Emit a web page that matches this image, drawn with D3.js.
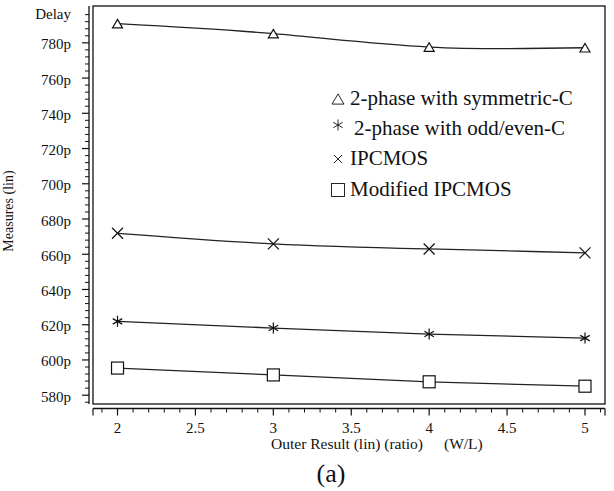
<!DOCTYPE html>
<html><head><meta charset="utf-8">
<script src="https://cdn.jsdelivr.net/npm/d3@7"></script>
<style>
html,body{margin:0;padding:0;background:#fff;}
</style></head>
<body><svg id="c" width="614" height="491" font-family="'Liberation Serif', 'Times New Roman', Times, 'DejaVu Serif', serif"></svg>
<script>
const xValues = [2, 3, 4, 5];
const seriesNames = ["2-phase with symmetric-C", "2-phase with odd/even-C", "IPCMOS", "Modified IPCMOS"];
const seriesSymbols = ["triangle", "asterisk", "cross", "square"];
const symmetricC = [790.9, 785.2, 777.6, 777.2];
const oddEvenC   = [621.9, 618.1, 614.7, 612.4];
const ipcmos     = [671.9, 665.9, 663.0, 660.8];
const modIpcmos  = [595.4, 591.5, 587.6, 585.1];
const yTickValues = [580, 600, 620, 640, 660, 680, 700, 720, 740, 760, 780];
const xTickValues = [2, 2.5, 3, 3.5, 4, 4.5, 5];
const yAxisTitle = "Measures (lin)";
const xAxisTitle = "Outer Result (lin) (ratio)";
const xAxisUnit = "(W/L)";
const yTopLabel = "Delay";
const caption = "(a)";

const allSeries = [symmetricC, oddEvenC, ipcmos, modIpcmos];
const FONT = "'Liberation Serif', 'Times New Roman', Times, 'DejaVu Serif', serif";

const svg = d3.select("#c");
const L = 93, R = 605, T = 6, B = 404;
const x = d3.scaleLinear().domain([1.8427, 5.1284]).range([L, R]);
const y = d3.scaleLinear().domain([575.0, 800.9]).range([B, T]);

function txt(sel) { return sel.attr("font-family", FONT).attr("fill", "#111"); }

// frame
svg.append("rect").attr("x", L).attr("y", T).attr("width", R - L).attr("height", B - T)
  .attr("fill", "none").attr("stroke", "#111").attr("stroke-width", 1.3);

// y axis (offset left)
const yAxisX = 89;
const gy = svg.append("g").attr("transform", `translate(${yAxisX},0)`);
gy.append("line").attr("x1", 0).attr("x2", 0).attr("y1", T).attr("y2", B).attr("stroke", "#111").attr("stroke-width", 1.3);
const yMinor = d3.range(576, 801, 4).filter(v => v % 20 !== 0);
gy.selectAll(".ymin").data(yMinor).join("line")
  .attr("x1", -4).attr("x2", 0).attr("y1", d => y(d)).attr("y2", d => y(d))
  .attr("stroke", "#111").attr("stroke-width", 1);
gy.selectAll(".ymaj").data(yTickValues).join("line")
  .attr("x1", -7).attr("x2", 0).attr("y1", d => y(d)).attr("y2", d => y(d))
  .attr("stroke", "#111").attr("stroke-width", 1.2);
txt(gy.selectAll(".ylab").data(yTickValues).join("text")
  .attr("x", -18).attr("y", d => y(d) + 6.5).attr("text-anchor", "end")
  .attr("font-size", 15).text(d => d + "p"));
txt(svg.append("text").attr("x", yAxisX - 18).attr("y", 19).attr("text-anchor", "end")
  .attr("font-size", 15).text(yTopLabel));

// x axis (offset below)
const xAxisY = 408.5;
const gx = svg.append("g").attr("transform", `translate(0,${xAxisY})`);
gx.append("line").attr("x1", L).attr("x2", R).attr("y1", 0).attr("y2", 0).attr("stroke", "#111").attr("stroke-width", 1.3);
gx.append("line").attr("x1", L).attr("x2", L).attr("y1", 0).attr("y2", 7).attr("stroke", "#111").attr("stroke-width", 1.2);
gx.append("line").attr("x1", R).attr("x2", R).attr("y1", 0).attr("y2", 7).attr("stroke", "#111").attr("stroke-width", 1.2);
const xMinor = d3.range(19, 52, 1).map(v => v / 10).filter(v => Math.abs(v * 2 - Math.round(v * 2)) > 1e-6);
gx.selectAll(".xmin").data(xMinor).join("line")
  .attr("x1", d => x(d)).attr("x2", d => x(d)).attr("y1", 0).attr("y2", 4)
  .attr("stroke", "#111").attr("stroke-width", 1);
gx.selectAll(".xmaj").data(xTickValues).join("line")
  .attr("x1", d => x(d)).attr("x2", d => x(d)).attr("y1", 0).attr("y2", 7)
  .attr("stroke", "#111").attr("stroke-width", 1.2);
txt(gx.selectAll(".xlab").data(xTickValues).join("text")
  .attr("x", d => x(d)).attr("y", 24.5).attr("text-anchor", "middle")
  .attr("font-size", 15).text(d => d));

txt(svg.append("text").attr("x", 423).attr("y", 449).attr("text-anchor", "end")
  .attr("font-size", 15.5).text(xAxisTitle));
txt(svg.append("text").attr("x", 444).attr("y", 449).attr("text-anchor", "start")
  .attr("font-size", 15.5).text(xAxisUnit));
txt(svg.append("text").attr("transform", "translate(13,211) rotate(-90)").attr("text-anchor", "middle")
  .attr("font-size", 14).text(yAxisTitle));
txt(svg.append("text").attr("x", 331).attr("y", 482).attr("text-anchor", "middle")
  .attr("font-size", 26).text(caption));

// lines
const line = d3.line().x((d, i) => x(xValues[i])).y(d => y(d)).curve(d3.curveNatural);
allSeries.forEach(s => {
  svg.append("path").attr("d", line(s)).attr("fill", "none")
    .attr("stroke", "#222").attr("stroke-width", 1.3);
});

function drawMarker(g, type, cx, cy, s, sw) {
  sw = sw || 1.2;
  if (type === "triangle") {
    const h = s * 0.85;
    g.append("path").attr("d", `M${cx},${cy - h / 2}L${cx + s / 2},${cy + h / 2}L${cx - s / 2},${cy + h / 2}Z`)
      .attr("fill", "#fff").attr("stroke", "#111").attr("stroke-width", sw);
  } else if (type === "square") {
    g.append("rect").attr("x", cx - s / 2).attr("y", cy - s / 2).attr("width", s).attr("height", s)
      .attr("fill", "#fff").attr("stroke", "#111").attr("stroke-width", sw);
  } else if (type === "cross") {
    const r = s / 2;
    g.append("path").attr("d", `M${cx - r},${cy - r}L${cx + r},${cy + r}M${cx - r},${cy + r}L${cx + r},${cy - r}`)
      .attr("stroke", "#111").attr("stroke-width", sw).attr("fill", "none");
  } else if (type === "asterisk") {
    const r = s / 2;
    let d = `M${cx},${cy - r}L${cx},${cy + r}`;
    [30, 150].forEach(a => {
      const rad = a * Math.PI / 180;
      const dx = r * Math.cos(rad), dy = r * Math.sin(rad);
      d += `M${cx - dx},${cy - dy}L${cx + dx},${cy + dy}`;
    });
    g.append("path").attr("d", d).attr("stroke", "#111").attr("stroke-width", sw).attr("fill", "none");
  }
}

const markerSize = { triangle: 10, asterisk: 11, cross: 11, square: 12 };
allSeries.forEach((s, k) => {
  const g = svg.append("g");
  s.forEach((v, i) => drawMarker(g, seriesSymbols[k], x(xValues[i]), y(v), markerSize[seriesSymbols[k]], 1.2));
});

// legend
const legY = [98, 128, 158, 189];
const legSize = { triangle: 12, asterisk: 11, cross: 8, square: 13 };
const leg = svg.append("g");
seriesNames.forEach((n, k) => {
  drawMarker(leg, seriesSymbols[k], 338, legY[k] + (k === 1 ? -3 : 1), legSize[seriesSymbols[k]], 0.9);
  txt(leg.append("text").attr("x", k === 1 ? 354 : 350).attr("y", legY[k] + 7).attr("font-size", 21).text(n));
});
</script></body></html>
